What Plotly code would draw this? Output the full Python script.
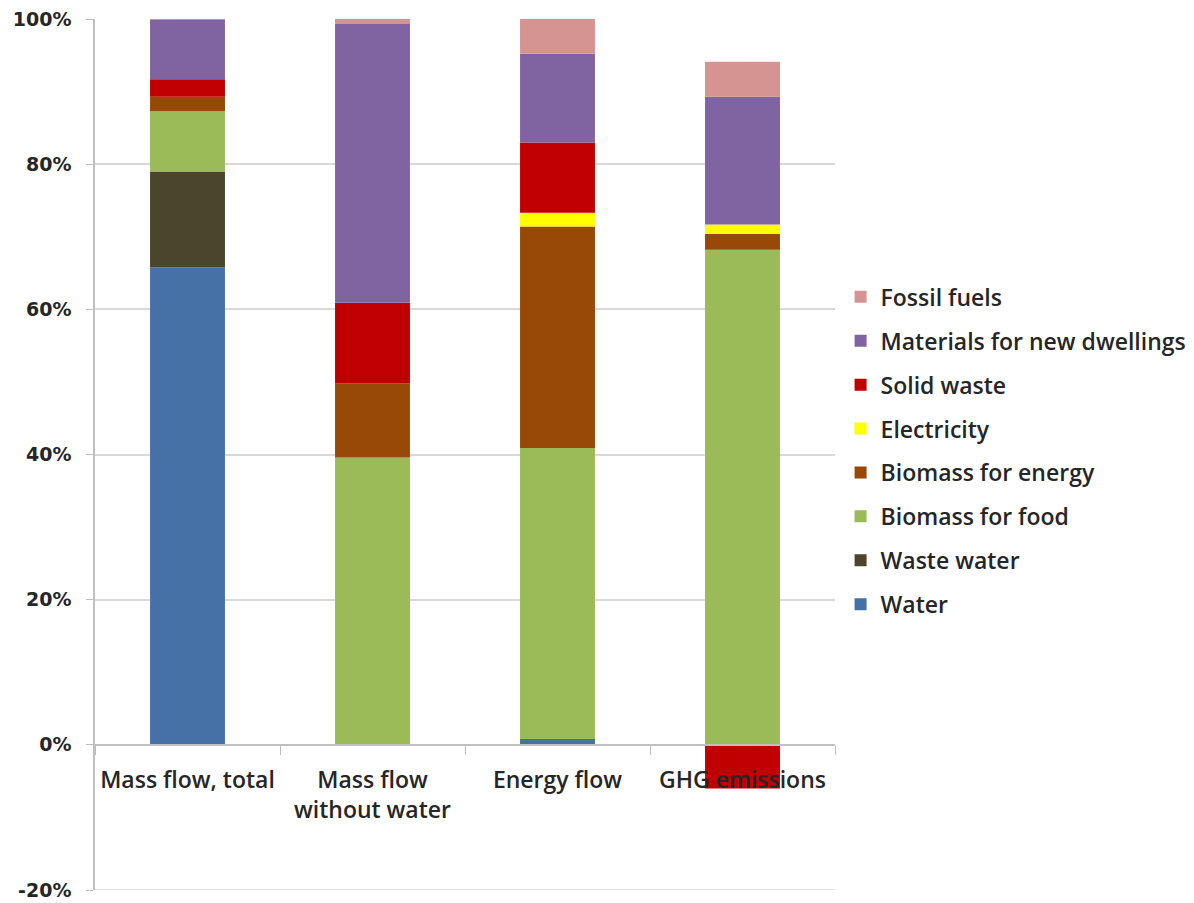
import plotly.graph_objects as go

categories = ["Mass flow, total", "Mass flow<br>without water", "Energy flow", "GHG emissions"]

water = [65.8, 0.0, 0.8, 0.0]
waste_water = [13.2, 0.0, 0.0, 0.0]
biomass_food = [8.3, 39.6, 40.1, 68.2]
biomass_energy = [2.0, 10.2, 30.5, 2.2]
electricity = [0.0, 0.0, 1.9, 1.3]
solid_waste = [2.4, 11.1, 9.7, -6.0]
materials = [8.2, 38.4, 12.2, 17.6]
fossil_fuels = [0.1, 0.7, 4.8, 4.8]

series = [
    ("Water", water, "#4571A7"),
    ("Waste water", waste_water, "#4A452B"),
    ("Biomass for food", biomass_food, "#9BBB59"),
    ("Biomass for energy", biomass_energy, "#984807"),
    ("Electricity", electricity, "#FFFF00"),
    ("Solid waste", solid_waste, "#C00000"),
    ("Materials for new dwellings", materials, "#8064A2"),
    ("Fossil fuels", fossil_fuels, "#D59391"),
]

y_ticks = [-20, 0, 20, 40, 60, 80, 100]

fig = go.Figure()
n = len(series)
for i, (name, vals, color) in enumerate(series):
    fig.add_trace(go.Bar(
        name=name, x=categories, y=vals,
        marker=dict(color=color, line=dict(width=0)),
        legendgroup=f"g{i}",
        legendrank=n - i,
    ))

label_font = dict(family="Open Sans", size=23, color="#262626", weight=600)

fig.update_layout(
    barmode="relative",
    bargap=0.595,
    width=1194, height=903,
    margin=dict(l=95, r=359, t=19, b=13),
    plot_bgcolor="white", paper_bgcolor="white",
    showlegend=True,
    legend=dict(
        traceorder="grouped",
        tracegroupgap=11,
        xref="container", yref="container",
        x=0.704, y=0.695, xanchor="left", yanchor="top",
        font=label_font,
        itemwidth=30,
        bgcolor="rgba(0,0,0,0)",
    ),
    xaxis=dict(
        type="category",
        anchor="free", position=20 / 120,
        showline=True, linecolor="#BFBFBF", linewidth=1.5,
        ticks="outside", tickson="boundaries", ticklen=9, tickcolor="#BFBFBF",
        tickfont=label_font,
        ticklabelstandoff=15,
        showgrid=False,
        automargin=False,
    ),
    yaxis=dict(
        range=[-20, 100],
        tickvals=y_ticks,
        ticktext=[f"{v}%" for v in y_ticks],
        showgrid=True, gridcolor="#D9D9D9", gridwidth=1.5,
        zeroline=False,
        showline=True, linecolor="#BFBFBF", linewidth=1.5,
        ticks="outside", ticklen=7, tickcolor="#BFBFBF",
        tickfont=dict(family="DejaVu Sans", size=19, color="#262626", weight="bold"),
        ticklabelstandoff=11,
        ticklabeloverflow="allow",
        automargin=False,
    ),
    shapes=[dict(
        type="line", xref="paper", yref="y",
        x0=0, x1=1, y0=-20, y1=-20,
        line=dict(color="#D9D9D9", width=1.5),
    )],
)

fig.write_html(
    "out.html",
    config={"displayModeBar": False},
    post_script="document.body.style.margin='0';document.body.style.overflow='hidden';",
)
